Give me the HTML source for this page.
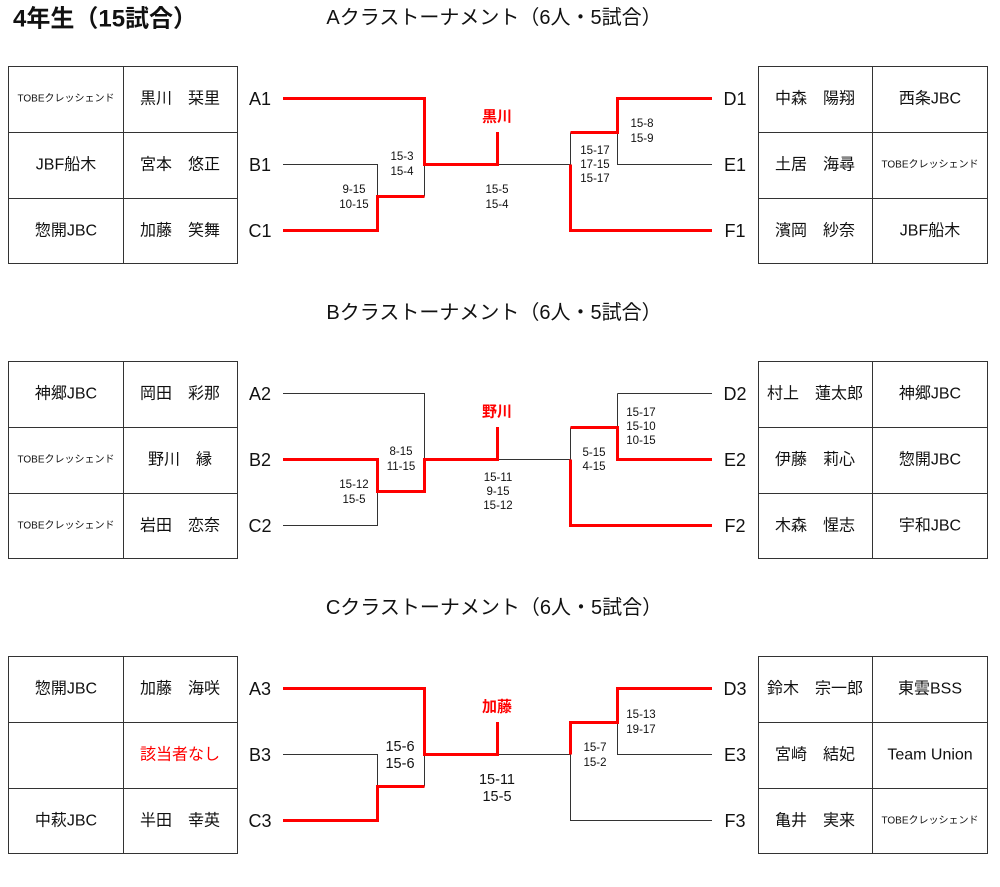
<!DOCTYPE html>
<html><head><meta charset="utf-8"><style>
html,body{margin:0;padding:0;background:#fff;}
svg{display:block;font-family:"Liberation Sans","Noto Sans CJK JP",sans-serif;}
text{dominant-baseline:central;text-anchor:middle;fill:#111;}
.n{font-size:16px;}
.t{font-size:10px;}
.l{font-size:18px;}
.s{font-size:11.5px;}
.s2{font-size:14.5px;}
.k{stroke:#333;stroke-width:1;fill:none;}
.r{stroke:#f00;stroke-width:3;fill:none;}
.w{fill:#f00;font-size:15px;font-weight:bold;}
.h{font-size:20px;}
</style></head><body>
<svg width="1000" height="887" viewBox="0 0 1000 887">
<text x="13" y="19" style="text-anchor:start;font-size:24px;font-weight:bold">4年生（15試合）</text>
<text class="h" x="494" y="18">Aクラストーナメント（6人・5試合）</text>
<text class="h" x="494" y="313">Bクラストーナメント（6人・5試合）</text>
<text class="h" x="494" y="608">Cクラストーナメント（6人・5試合）</text>

<defs>
<g id="frame">
<rect x="8.5" y="66.5" width="229" height="197" fill="none" stroke="#333"/>
<line x1="123.5" y1="66" x2="123.5" y2="264" stroke="#333"/>
<line x1="8" y1="132.5" x2="237" y2="132.5" stroke="#333"/>
<line x1="8" y1="198.5" x2="237" y2="198.5" stroke="#333"/>
<rect x="758.5" y="66.5" width="229" height="197" fill="none" stroke="#333"/>
<line x1="872.5" y1="66" x2="872.5" y2="264" stroke="#333"/>
<line x1="758" y1="132.5" x2="988" y2="132.5" stroke="#333"/>
<line x1="758" y1="198.5" x2="988" y2="198.5" stroke="#333"/>
<path class="k" d="M283 98.5H424.5V196.5M283 164.5H377.5V230.5H283M377.5 196.5H424.5M424.5 164.5H570.5M570.5 132.5V230.5H712M570.5 132.5H617.5V164.5H712M617.5 98.5V132.5M617.5 98.5H712"/>
</g>
</defs>

<!-- A -->
<use href="#frame"/>
<text class="t" x="66" y="99">TOBEクレッシェンド</text><text class="n" x="180" y="99">黒川　栞里</text>
<text class="n" x="66" y="165">JBF船木</text><text class="n" x="180" y="165">宮本　悠正</text>
<text class="n" x="66" y="231">惣開JBC</text><text class="n" x="180" y="231">加藤　笑舞</text>
<text class="n" x="815" y="99">中森　陽翔</text><text class="n" x="930" y="99">西条JBC</text>
<text class="n" x="815" y="165">土居　海尋</text><text class="t" x="930" y="165">TOBEクレッシェンド</text>
<text class="n" x="815" y="231">濱岡　紗奈</text><text class="n" x="930" y="231">JBF船木</text>
<text class="l" x="260" y="99">A1</text><text class="l" x="260" y="165">B1</text><text class="l" x="260" y="231">C1</text>
<text class="l" x="735" y="99">D1</text><text class="l" x="735" y="165">E1</text><text class="l" x="735" y="231">F1</text>
<path class="r" d="M283 98.5H424.5V164.5H497.5V132M283 230.5H377.5V196.5H424.5M712 98.5H617.5V132.5H570.5M570.5 164.5V230.5H712"/>
<text class="w" x="497" y="117">黒川</text>
<text class="s" x="402" y="157">15-3</text><text class="s" x="402" y="172">15-4</text>
<text class="s" x="354" y="190">9-15</text><text class="s" x="354" y="205">10-15</text>
<text class="s" x="497" y="190">15-5</text><text class="s" x="497" y="205">15-4</text>
<text class="s" x="595" y="151">15-17</text><text class="s" x="595" y="165">17-15</text><text class="s" x="595" y="179">15-17</text>
<text class="s" x="642" y="124">15-8</text><text class="s" x="642" y="139">15-9</text>

<!-- B -->
<g transform="translate(0,295)">
<use href="#frame"/>
<text class="n" x="66" y="99">神郷JBC</text><text class="n" x="180" y="99">岡田　彩那</text>
<text class="t" x="66" y="165">TOBEクレッシェンド</text><text class="n" x="180" y="165">野川　縁</text>
<text class="t" x="66" y="231">TOBEクレッシェンド</text><text class="n" x="180" y="231">岩田　恋奈</text>
<text class="n" x="815" y="99">村上　蓮太郎</text><text class="n" x="930" y="99">神郷JBC</text>
<text class="n" x="815" y="165">伊藤　莉心</text><text class="n" x="930" y="165">惣開JBC</text>
<text class="n" x="815" y="231">木森　惺志</text><text class="n" x="930" y="231">宇和JBC</text>
<text class="l" x="260" y="99">A2</text><text class="l" x="260" y="165">B2</text><text class="l" x="260" y="231">C2</text>
<text class="l" x="735" y="99">D2</text><text class="l" x="735" y="165">E2</text><text class="l" x="735" y="231">F2</text>
<path class="r" d="M283 164.5H377.5V196.5H424.5V164.5H497.5V132M712 164.5H617.5V132.5H570.5M570.5 164.5V230.5H712"/>
<text class="w" x="497" y="117">野川</text>
<text class="s" x="401" y="157">8-15</text><text class="s" x="401" y="172">11-15</text>
<text class="s" x="354" y="190">15-12</text><text class="s" x="354" y="205">15-5</text>
<text class="s" x="498" y="183">15-11</text><text class="s" x="498" y="197">9-15</text><text class="s" x="498" y="211">15-12</text>
<text class="s" x="594" y="158">5-15</text><text class="s" x="594" y="172">4-15</text>
<text class="s" x="641" y="118">15-17</text><text class="s" x="641" y="132">15-10</text><text class="s" x="641" y="146">10-15</text>
</g>

<!-- C -->
<g transform="translate(0,590)">
<use href="#frame"/>
<text class="n" x="66" y="99">惣開JBC</text><text class="n" x="180" y="99">加藤　海咲</text>
<text class="n" x="180" y="165" style="fill:#f00">該当者なし</text>
<text class="n" x="66" y="231">中萩JBC</text><text class="n" x="180" y="231">半田　幸英</text>
<text class="n" x="815" y="99">鈴木　宗一郎</text><text class="n" x="930" y="99">東雲BSS</text>
<text class="n" x="815" y="165">宮崎　結妃</text><text class="n" x="930" y="165">Team Union</text>
<text class="n" x="815" y="231">亀井　実来</text><text class="t" x="930" y="231">TOBEクレッシェンド</text>
<text class="l" x="260" y="99">A3</text><text class="l" x="260" y="165">B3</text><text class="l" x="260" y="231">C3</text>
<text class="l" x="735" y="99">D3</text><text class="l" x="735" y="165">E3</text><text class="l" x="735" y="231">F3</text>
<path class="r" d="M283 98.5H424.5V164.5H497.5V132M283 230.5H377.5V196.5H424.5M712 98.5H617.5V132.5H570.5V164.5"/>
<text class="w" x="497" y="117">加藤</text>
<text class="s2" x="400" y="157">15-6</text><text class="s2" x="400" y="174">15-6</text>
<text class="s2" x="497" y="190">15-11</text><text class="s2" x="497" y="207">15-5</text>
<text class="s" x="595" y="158">15-7</text><text class="s" x="595" y="173">15-2</text>
<text class="s" x="641" y="125">15-13</text><text class="s" x="641" y="140">19-17</text>
</g>
</svg>
</body></html>
